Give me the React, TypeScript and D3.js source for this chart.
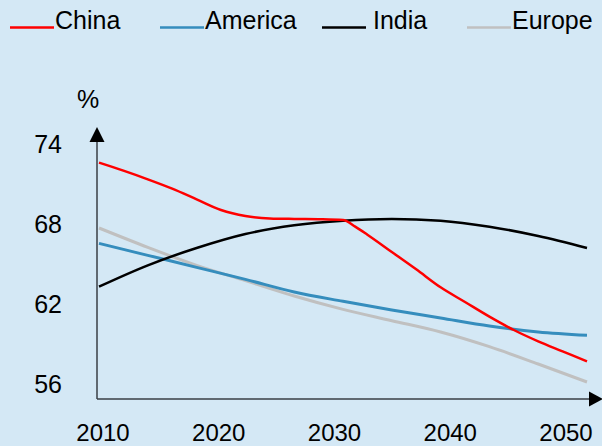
import * as React from 'react'
import * as d3 from 'd3'

const years = [2010, 2012, 2014, 2016, 2018, 2020, 2022, 2024, 2026, 2028, 2030, 2031, 2032, 2034, 2036, 2038, 2040, 2042, 2044, 2046, 2048, 2050];
const china = [72.6, 72.0, 71.35, 70.65, 69.85, 69.05, 68.6, 68.42, 68.38, 68.36, 68.3, 67.8, 67.2, 65.9, 64.6, 63.25, 62.15, 61.05, 60.05, 59.2, 58.45, 57.7];

const years4 = [2010, 2014, 2018, 2022, 2026, 2030, 2034, 2038, 2042, 2046, 2050];
const america = [66.55, 65.65, 64.75, 63.85, 62.9, 62.2, 61.55, 60.95, 60.35, 59.9, 59.65];
const europe = [67.7, 66.25, 64.9, 63.75, 62.6, 61.6, 60.75, 59.9, 58.8, 57.5, 56.15];
const india = [63.3, 64.9, 66.2, 67.25, 67.9, 68.25, 68.38, 68.25, 67.8, 67.1, 66.2];

const yTicks = [56, 62, 68, 74];
const xLabels = ['2010', '2020', '2030', '2040', '2050'];

const legend = [
    {name: 'China', color: '#ff0000', x: 10, gap: 1},
    {name: 'America', color: '#358dbd', x: 160, gap: 1},
    {name: 'India', color: '#000000', x: 322, gap: 7},
    {name: 'Europe', color: '#c0c0c0', x: 467, gap: 1},
];

const width = 602;
const height = 446;
const font = '"Liberation Sans", Arial, sans-serif';

const App = () => {
    const x = d3.scaleLinear().domain([2010, 2050]).range([99, 587]);
    const y = d3.scaleLinear().domain([56, 74]).range([384, 144]);
    const xl = d3.scalePoint<string>().domain(xLabels).range([103, 566]);

    const line = (xs: number[], vs: number[]) =>
        d3.line<number>()
          .x((d, i) => x(xs[i]))
          .y(d => y(d))
          .curve(d3.curveMonotoneX)(vs) || '';

    const x0 = 97;
    const yBase = 399;

    return (
        <svg width={width} height={height} style={{position: 'absolute', left: 0, top: 0}} fontFamily={font}>
            <rect width={width} height={height} fill="#d4e8f5" />

            {legend.map(l => (
                <g key={l.name}>
                    <line x1={l.x} x2={l.x + 44} y1={27.5} y2={27.5} stroke={l.color} strokeWidth={2.5} />
                    <text x={l.x + 44 + l.gap} y={29} fontSize={25} fill="#000">{l.name}</text>
                </g>
            ))}

            <text x={88} y={108} fontSize={25} textAnchor="middle">%</text>

            {yTicks.map(t => (
                <text key={t} x={62} y={y(t) + 9} fontSize={25} textAnchor="end">{t}</text>
            ))}
            {xLabels.map(t => (
                <text key={t} x={xl(t)} y={441} fontSize={24} textAnchor="middle">{t}</text>
            ))}

            <line x1={x0} x2={x0} y1={yBase} y2={141} stroke="#3a3f44" strokeWidth={1.5} />
            <path d={`M${x0},127 L${x0 - 7.5},142 L${x0 + 7.5},142 Z`} fill="#000" />
            <line x1={x0} x2={590} y1={yBase} y2={yBase} stroke="#3a3f44" strokeWidth={1.5} />
            <path d={`M603,${yBase} L589,${yBase - 7.5} L589,${yBase + 7.5} Z`} fill="#000" />

            <path d={line(years4, europe)} fill="none" stroke="#c0c0c0" strokeWidth={3} />
            <path d={line(years4, america)} fill="none" stroke="#358dbd" strokeWidth={3} />
            <path d={line(years4, india)} fill="none" stroke="#000" strokeWidth={2.5} />
            <path d={line(years, china)} fill="none" stroke="#ff0000" strokeWidth={2.5} />
        </svg>
    )
}

export default App;
